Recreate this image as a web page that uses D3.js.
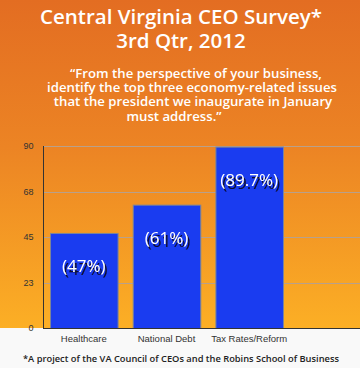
<!DOCTYPE html>
<html><head><meta charset="utf-8">
<script src="https://cdn.jsdelivr.net/npm/d3@7"></script>
<style>body{margin:0;background:#f9f9f9}svg{display:block}</style>
</head><body>
<script>
const categories = ["Healthcare", "National Debt", "Tax Rates/Reform"];
const values = [47, 61, 89.7];
const valueLabels = ["(47%)", "(61%)", "(89.7%)"];
const yTicks = [0, 22.5, 45, 67.5, 90];
const titleLines = ["Central Virginia CEO Survey*", "3rd Qtr, 2012"];
const questionLines = ["\u201cFrom the perspective of your business,", "identify the top three economy-related issues", "that the president we inaugurate in January", "must address.\u201d"];
const footnote = "*A project of the VA Council of CEOs and the Robins School of Business";

const W = 360, H = 368;
const svg = d3.select("body").append("svg").attr("width", W).attr("height", H);
const defs = svg.append("defs");
const g = defs.append("linearGradient").attr("id", "bg").attr("x1", 0).attr("y1", 0).attr("x2", 0).attr("y2", 1);
g.append("stop").attr("offset", "0%").attr("stop-color", "#e36d22");
g.append("stop").attr("offset", "45%").attr("stop-color", "#ec8424");
g.append("stop").attr("offset", "100%").attr("stop-color", "#fcaf25");
const f = defs.append("filter").attr("id", "shadow").attr("x", "-20%").attr("y", "-40%").attr("width", "140%").attr("height", "180%");
f.append("feDropShadow").attr("dx", 2).attr("dy", 3).attr("stdDeviation", 0.4)
  .attr("flood-color", "#0a0a30").attr("flood-opacity", 1);

svg.append("rect").attr("x", 0).attr("y", 0).attr("width", W).attr("height", H).attr("fill", "#f9f9f9");
svg.append("rect").attr("x", 0).attr("y", 0).attr("width", W).attr("height", 328).attr("fill", "url(#bg)");

const font = "'Open Sans', 'Noto Sans', sans-serif";
const tt = svg.append("text").attr("text-anchor", "middle").attr("fill", "#fff").attr("font-family", font)
  .attr("font-weight", 600).attr("font-size", 20.5);
tt.selectAll("tspan").data(titleLines).join("tspan")
  .attr("x", 181).attr("y", (d, i) => 24 + i * 24).text(d => d);

const qx = [196, 192, 193, 174];
const qt = svg.append("text").attr("text-anchor", "middle").attr("fill", "#fff").attr("font-family", font)
  .attr("font-weight", 600).attr("font-size", 13.2);
qt.selectAll("tspan").data(questionLines).join("tspan")
  .attr("x", (d, i) => qx[i]).attr("y", (d, i) => 78 + i * 14.2).text(d => d);

const x = d3.scaleBand().domain(categories).range([43, 290]).paddingInner(0.183).paddingOuter(0.085);
const y = d3.scaleLinear().domain([0, 90]).range([328, 146]);

// gridlines
svg.selectAll("line.grid").data(yTicks.filter(t => t > 0)).join("line").attr("class", "grid")
  .attr("x1", 43).attr("x2", W).attr("y1", d => Math.round(y(d)) + 0.5).attr("y2", d => Math.round(y(d)) + 0.5)
  .attr("stroke", "#b9a08a").attr("stroke-width", 1);

// y axis
const yAxis = d3.axisLeft(y).tickValues(yTicks).tickSize(0).tickPadding(10).tickFormat(d => Math.round(d));
const ya = svg.append("g").attr("transform", "translate(43.5,0)").call(yAxis);
ya.select(".domain").attr("stroke", "#333").attr("d", "M0," + y(90) + "V" + (y(0) + 0.5));
ya.selectAll("text").attr("font-family", "'Liberation Sans', Arial, sans-serif").attr("font-size", 9).attr("fill", "#333");

// bars
svg.selectAll("rect.bar").data(values).join("rect").attr("class", "bar")
  .attr("x", (d, i) => x(categories[i]) + 0.5).attr("width", x.bandwidth())
  .attr("y", d => y(d) + 0.5).attr("height", d => y(0) - y(d))
  .attr("fill", "#1a3cf0").attr("stroke", "#7c8599").attr("stroke-width", 1);

// x axis
const xAxis = d3.axisBottom(x).tickSize(0).tickPadding(7);
const xa = svg.append("g").attr("transform", "translate(0,328.5)").call(xAxis);
xa.select(".domain").attr("stroke", "#333").attr("d", "M43,0H" + W);
xa.selectAll("text").attr("font-family", "'Liberation Sans', Arial, sans-serif").attr("font-size", 9.5).attr("fill", "#333");

// value labels with drop shadow
svg.selectAll("text.lab").data(values).join("text").attr("class", "lab")
  .attr("x", (d, i) => x(categories[i]) + x.bandwidth() / 2).attr("y", d => y(d) + 39)
  .attr("text-anchor", "middle").attr("fill", "#fff").attr("filter", "url(#shadow)")
  .attr("font-family", font).attr("font-size", 17).text((d, i) => valueLabels[i]);

svg.append("text").attr("x", 181).attr("y", 362).attr("text-anchor", "middle")
  .attr("fill", "#222").attr("font-family", font).attr("font-weight", 600).attr("font-size", 9.3).text(footnote);
</script>
</body></html>
